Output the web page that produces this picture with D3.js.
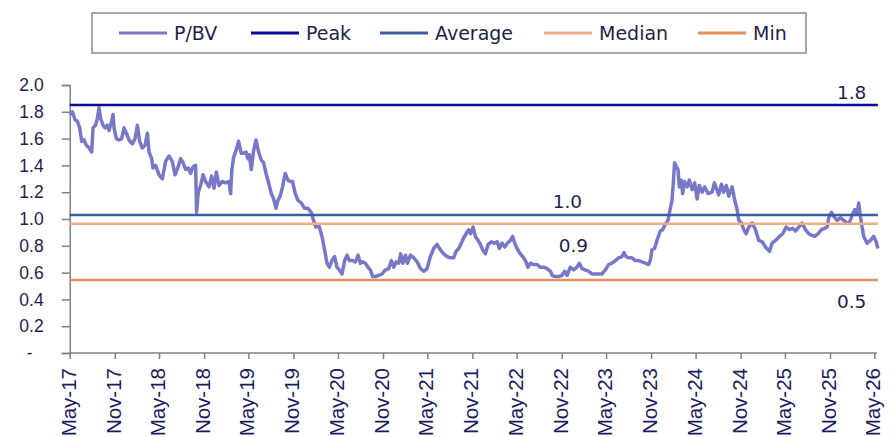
<!DOCTYPE html>
<html>
<head>
<meta charset="utf-8">
<script src="https://cdn.jsdelivr.net/npm/d3@7"></script>
<style>
	body { margin: 0; background: #fff; }
	svg { display: block; font-family: "DejaVu Sans", Inter, sans-serif; }
	.yAxis text { font-size: 17.5px; fill: #1f1f4d; }
	.xAxis text { font-family: "Liberation Sans", Arial, sans-serif; font-size: 20.5px; fill: #1b1b5e; }
	.domain, .tick line { stroke: #808080; stroke-width: 1.5; }
	.refLabel { font-size: 18.5px; fill: #1f1f4d; }
	.legendText { font-size: 19px; fill: #1f1f4d; }
</style>
</head>
<body>
<svg id="chart" width="892" height="437"></svg>
<script>

// P/BV series, [decimal year, value]
var pbv = [
	[2017.333,1.78],[2017.359,1.80],[2017.389,1.74],[2017.415,1.73],[2017.440,1.68],[2017.463,1.58],
	[2017.490,1.59],[2017.515,1.55],[2017.546,1.53],[2017.575,1.50],[2017.590,1.68],[2017.619,1.70],
	[2017.638,1.75],[2017.657,1.83],[2017.675,1.75],[2017.702,1.70],[2017.725,1.68],[2017.750,1.70],
	[2017.769,1.66],[2017.798,1.73],[2017.814,1.78],[2017.825,1.68],[2017.851,1.60],[2017.881,1.59],
	[2017.910,1.60],[2017.937,1.68],[2017.963,1.64],[2017.993,1.59],[2018.030,1.56],[2018.060,1.60],
	[2018.086,1.70],[2018.112,1.58],[2018.142,1.53],[2018.172,1.55],[2018.198,1.64],[2018.217,1.50],
	[2018.246,1.45],[2018.261,1.38],[2018.291,1.40],[2018.329,1.33],[2018.366,1.30],[2018.402,1.43],
	[2018.440,1.47],[2018.477,1.43],[2018.508,1.33],[2018.533,1.37],[2018.570,1.45],[2018.597,1.42],
	[2018.626,1.37],[2018.656,1.38],[2018.682,1.34],[2018.709,1.39],[2018.738,1.40],[2018.749,1.05],
	[2018.768,1.20],[2018.794,1.25],[2018.821,1.33],[2018.850,1.28],[2018.888,1.24],[2018.917,1.32],
	[2018.944,1.23],[2018.970,1.35],[2019.000,1.25],[2019.037,1.28],[2019.074,1.27],[2019.112,1.28],
	[2019.130,1.19],[2019.143,1.36],[2019.163,1.46],[2019.190,1.51],[2019.219,1.58],[2019.249,1.49],
	[2019.275,1.49],[2019.302,1.50],[2019.324,1.45],[2019.339,1.48],[2019.361,1.37],[2019.387,1.51],
	[2019.414,1.59],[2019.443,1.50],[2019.473,1.44],[2019.499,1.42],[2019.526,1.34],[2019.555,1.27],
	[2019.585,1.19],[2019.611,1.15],[2019.637,1.08],[2019.660,1.14],[2019.685,1.17],[2019.711,1.24],
	[2019.741,1.34],[2019.772,1.29],[2019.797,1.28],[2019.823,1.28],[2019.853,1.19],[2019.883,1.14],
	[2019.920,1.12],[2019.957,1.08],[2019.995,1.08],[2020.032,1.05],[2020.058,0.99],[2020.085,0.94],
	[2020.114,0.96],[2020.152,0.87],[2020.181,0.77],[2020.208,0.67],[2020.234,0.64],[2020.264,0.69],
	[2020.293,0.72],[2020.320,0.64],[2020.345,0.62],[2020.376,0.59],[2020.405,0.69],[2020.432,0.73],
	[2020.457,0.69],[2020.494,0.69],[2020.524,0.68],[2020.555,0.73],[2020.580,0.67],[2020.606,0.68],
	[2020.636,0.67],[2020.666,0.64],[2020.692,0.62],[2020.718,0.57],[2020.748,0.57],[2020.785,0.58],
	[2020.823,0.59],[2020.860,0.62],[2020.897,0.63],[2020.927,0.69],[2020.953,0.64],[2020.980,0.68],
	[2021.009,0.67],[2021.031,0.74],[2021.054,0.67],[2021.084,0.73],[2021.106,0.67],[2021.140,0.73],
	[2021.177,0.71],[2021.215,0.68],[2021.252,0.63],[2021.288,0.61],[2021.326,0.63],[2021.363,0.72],
	[2021.400,0.78],[2021.438,0.81],[2021.475,0.77],[2021.512,0.74],[2021.550,0.72],[2021.587,0.71],
	[2021.624,0.71],[2021.651,0.76],[2021.680,0.78],[2021.710,0.82],[2021.736,0.86],[2021.763,0.89],
	[2021.792,0.92],[2021.814,0.89],[2021.841,0.94],[2021.867,0.87],[2021.897,0.84],[2021.923,0.81],
	[2021.948,0.77],[2021.979,0.74],[2022.009,0.81],[2022.046,0.83],[2022.076,0.82],[2022.110,0.83],
	[2022.135,0.78],[2022.165,0.82],[2022.195,0.79],[2022.225,0.82],[2022.258,0.84],[2022.284,0.87],
	[2022.306,0.82],[2022.333,0.78],[2022.370,0.74],[2022.396,0.72],[2022.426,0.69],[2022.456,0.64],
	[2022.482,0.67],[2022.519,0.66],[2022.557,0.66],[2022.594,0.64],[2022.631,0.64],[2022.669,0.63],
	[2022.706,0.61],[2022.725,0.58],[2022.762,0.57],[2022.799,0.57],[2022.837,0.58],[2022.866,0.61],
	[2022.893,0.58],[2022.929,0.64],[2022.966,0.62],[2023.004,0.64],[2023.030,0.67],[2023.060,0.63],
	[2023.097,0.62],[2023.134,0.61],[2023.172,0.59],[2023.209,0.59],[2023.246,0.59],[2023.284,0.59],
	[2023.321,0.62],[2023.358,0.66],[2023.396,0.67],[2023.433,0.69],[2023.470,0.71],[2023.508,0.72],
	[2023.530,0.75],[2023.552,0.72],[2023.582,0.71],[2023.620,0.71],[2023.656,0.69],[2023.693,0.69],
	[2023.731,0.68],[2023.768,0.67],[2023.805,0.66],[2023.824,0.69],[2023.843,0.77],[2023.872,0.78],
	[2023.899,0.84],[2023.936,0.91],[2023.962,0.92],[2023.992,0.96],[2024.022,0.99],[2024.048,1.08],
	[2024.067,1.14],[2024.082,1.27],[2024.096,1.42],[2024.115,1.39],[2024.134,1.37],[2024.149,1.24],
	[2024.171,1.29],[2024.186,1.19],[2024.208,1.28],[2024.235,1.24],[2024.261,1.29],[2024.291,1.22],
	[2024.320,1.27],[2024.347,1.15],[2024.372,1.25],[2024.403,1.20],[2024.432,1.24],[2024.470,1.19],
	[2024.514,1.20],[2024.540,1.27],[2024.588,1.18],[2024.619,1.26],[2024.644,1.20],[2024.674,1.25],
	[2024.700,1.17],[2024.738,1.24],[2024.767,1.14],[2024.794,1.07],[2024.812,0.99],[2024.842,0.97],
	[2024.868,0.92],[2024.895,0.89],[2024.924,0.94],[2024.962,0.97],[2024.999,0.92],[2025.036,0.84],
	[2025.074,0.83],[2025.111,0.79],[2025.156,0.76],[2025.186,0.82],[2025.223,0.84],[2025.267,0.87],
	[2025.304,0.89],[2025.342,0.94],[2025.379,0.92],[2025.416,0.93],[2025.446,0.91],[2025.483,0.94],
	[2025.521,0.97],[2025.558,0.92],[2025.595,0.89],[2025.625,0.88],[2025.662,0.87],[2025.700,0.89],
	[2025.737,0.92],[2025.774,0.93],[2025.801,0.94],[2025.819,1.01],[2025.849,1.05],[2025.875,1.02],
	[2025.913,0.99],[2025.950,1.01],[2025.987,0.99],[2026.025,0.97],[2026.050,0.97],[2026.081,1.03],
	[2026.110,1.07],[2026.136,1.04],[2026.154,1.12],[2026.173,1.02],[2026.192,0.94],[2026.210,0.87],
	[2026.248,0.82],[2026.285,0.84],[2026.322,0.87],[2026.349,0.83],[2026.369,0.78]
];

// reference lines
var refNames  = ['Peak', 'Average', 'Median', 'Min'];
var refValues = [1.85, 1.03, 0.965, 0.545];
var refLabels = ['1.8', '1.0', '0.9', '0.5'];

var yTicks = [0, 0.2, 0.4, 0.6, 0.8, 1.0, 1.2, 1.4, 1.6, 1.8, 2.0];

var seriesNames = ['P/BV'].concat(refNames);
var colors = {
	'P/BV': '#7878c8',
	'Peak': '#0a0a96',
	'Average': '#3b5ea3',
	'Median': '#f2aa8a',
	'Min': '#e88d5c'
};

// label placement for ref values: [decimal year, anchor, y offset from line]
var refLabelPos = [
	[2026.24, 'end', -6],
	[2022.896, 'middle', -7],
	[2022.963, 'middle', 28],
	[2026.24, 'end', 28]
];

function yearToDate(t) {
	var y = Math.floor(t);
	var start = new Date(y, 0, 1), end = new Date(y + 1, 0, 1);
	return new Date(+start + (t - y) * (end - start));
}

var svg = d3.select('#chart');

var x = d3.scaleTime()
	.domain([new Date(2017, 4, 1), new Date(2026, 4, 1)])
	.range([69.7, 874.3]);

var y = d3.scaleLinear()
	.domain([0, 2])
	.range([353, 85]);

// y axis
var yAxis = svg.append('g')
	.attr('class', 'yAxis')
	.attr('transform', 'translate(69.7,0)')
	.call(d3.axisLeft(y)
		.tickValues(yTicks)
		.tickSize(8)
		.tickPadding(18)
		.tickFormat(d => d === 0 ? '-' : d3.format('.1f')(d)));

yAxis.selectAll('text')
	.filter(d => d === 0)
	.attr('x', -37);

// x axis, every six months from May-17
var xTicks = d3.timeMonth.range(new Date(2017, 4, 1), new Date(2026, 4, 2), 6);

var xAxis = svg.append('g')
	.attr('class', 'xAxis')
	.attr('transform', 'translate(0,353)')
	.call(d3.axisBottom(x)
		.tickValues(xTicks)
		.tickSize(6)
		.tickSizeOuter(0)
		.tickFormat(d3.timeFormat('%b-%y')));

xAxis.select('.domain').attr('d', 'M69.7,0H877');

xAxis.selectAll('text')
	.attr('transform', 'rotate(-90)')
	.attr('x', -15)
	.attr('y', 0)
	.attr('dy', '0.27em')
	.style('text-anchor', 'end');

// P/BV line
var line = d3.line()
	.x(d => x(yearToDate(d[0])))
	.y(d => y(d[1]));

svg.append('path')
	.datum(pbv)
	.attr('fill', 'none')
	.attr('stroke', colors['P/BV'])
	.attr('stroke-width', 3.5)
	.attr('stroke-linejoin', 'round')
	.attr('d', line);

// reference lines
var xEnd = x(yearToDate(pbv[pbv.length - 1][0]));

svg.selectAll('line.ref')
	.data(refValues)
	.enter()
	.append('line')
	.attr('class', 'ref')
	.attr('x1', 69.7)
	.attr('x2', xEnd)
	.attr('y1', d => y(d))
	.attr('y2', d => y(d))
	.attr('stroke', (d, i) => colors[refNames[i]])
	.attr('stroke-width', 2.5);

svg.selectAll('text.refLabel')
	.data(refLabels)
	.enter()
	.append('text')
	.attr('class', 'refLabel')
	.attr('x', (d, i) => x(yearToDate(refLabelPos[i][0])))
	.attr('y', (d, i) => y(refValues[i]) + refLabelPos[i][2])
	.attr('text-anchor', (d, i) => refLabelPos[i][1])
	.text(d => d);

// legend
var legend = svg.append('g').attr('class', 'legend');

legend.append('rect')
	.attr('x', 92)
	.attr('y', 13)
	.attr('width', 714)
	.attr('height', 40)
	.attr('fill', '#fff')
	.attr('stroke', '#8c8c8c')
	.attr('stroke-width', 1.5);

var legendX = [119, 251, 380, 544, 698];

var items = legend.selectAll('g.item')
	.data(seriesNames)
	.enter()
	.append('g')
	.attr('class', 'item')
	.attr('transform', (d, i) => `translate(${legendX[i]},33)`);

items.append('line')
	.attr('x1', 0)
	.attr('x2', 48)
	.attr('stroke', d => colors[d])
	.attr('stroke-width', 3);

items.append('text')
	.attr('class', 'legendText')
	.attr('x', 55)
	.attr('dy', '0.35em')
	.text(d => d);

</script>
</body>
</html>
